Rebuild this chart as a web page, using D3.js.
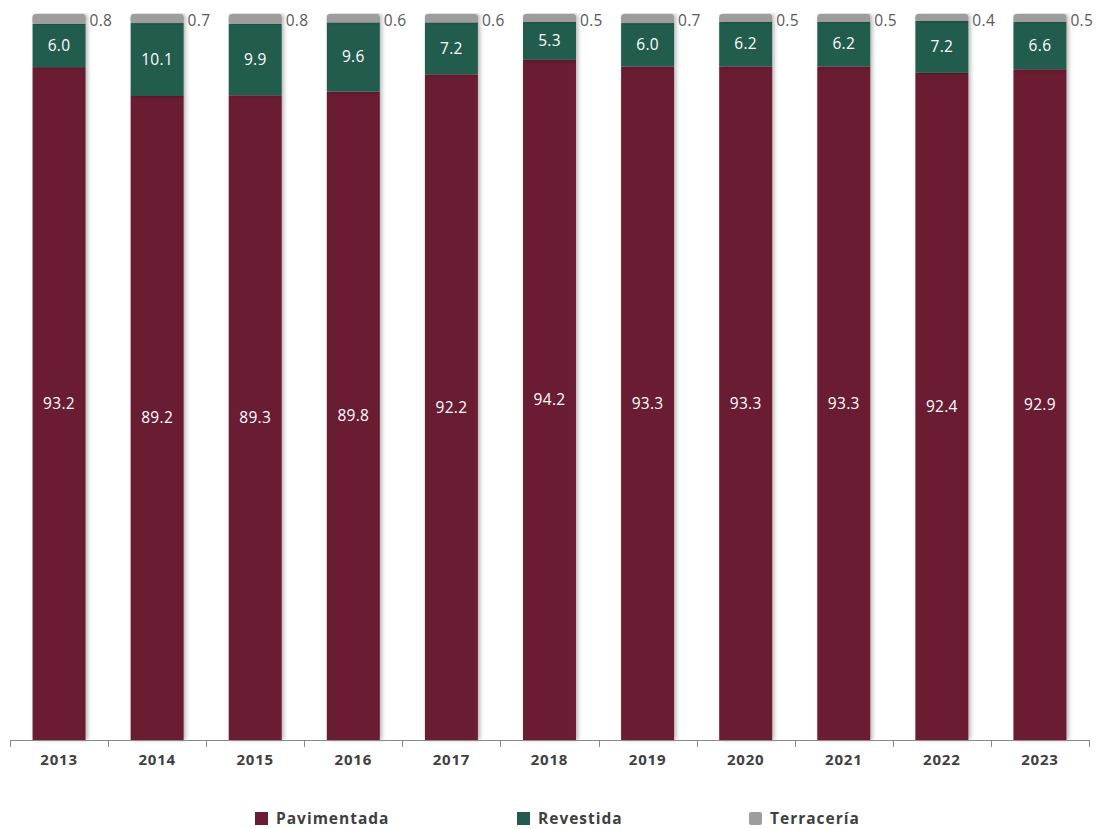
<!DOCTYPE html>
<html><head><meta charset="utf-8">
<script src="https://cdn.jsdelivr.net/npm/d3@7"></script>
<style>body{margin:0;background:#fff;} svg{display:block;font-family:"Open Sans",sans-serif;}</style>
</head><body><svg id="c" width="1099" height="829"></svg>
<script>
const years = ["2013","2014","2015","2016","2017","2018","2019","2020","2021","2022","2023"];
const pavimentada = [93.2,89.2,89.3,89.8,92.2,94.2,93.3,93.3,93.3,92.4,92.9];
const revestida = [6.0,10.1,9.9,9.6,7.2,5.3,6.0,6.2,6.2,7.2,6.6];
const terraceria = [0.8,0.7,0.8,0.6,0.6,0.5,0.7,0.5,0.5,0.4,0.5];
const seriesNames = ["Pavimentada","Revestida","Terracería"];
const colors = ["#691C32","#235B4E","#9D9D9D"];

const svg = d3.select("#c");
const x = d3.scaleBand().domain(years).range([10,1089]).paddingInner(0.46).paddingOuter(0.23);
const y = d3.scaleLinear().domain([0,100]).range([740,18]);

const defs = svg.append("defs");
const f = defs.append("filter").attr("id","sh").attr("x","-20%").attr("y","-5%").attr("width","150%").attr("height","110%");
f.append("feDropShadow").attr("dx",2).attr("dy",0).attr("stdDeviation",2).attr("flood-color","#000").attr("flood-opacity",0.3);

const rows = years.map((yr,i)=>({year:yr,Pavimentada:pavimentada[i],Revestida:revestida[i],"Terracería":terraceria[i]}));
const stack = d3.stack().keys(seriesNames)(rows);

const g = svg.append("g");
stack.forEach((s,si)=>{
  g.append("g").attr("filter","url(#sh)").selectAll("rect").data(s).join("rect")
    .attr("x",d=>x(d.data.year))
    .attr("width",x.bandwidth())
    .attr("y",d=>y(d[1]) - (si===2?4:0))
    .attr("height",d=>y(d[0])-y(d[1]) + (si===2?4:0))
    .attr("rx",si===2?3:0)
    .attr("fill",colors[si]);
});
g.append("g").selectAll("rect").data(stack[2]).join("rect")
  .attr("x",d=>x(d.data.year)).attr("width",x.bandwidth())
  .attr("y",d=>y(d[1]) - 1).attr("height",d=>y(d[0])-y(d[1]) + 1)
  .attr("fill",colors[2]);

// labels
[0,1].forEach(si=>{
  g.append("g").selectAll("text").data(stack[si]).join("text")
    .attr("x",d=>x(d.data.year)+x.bandwidth()/2)
    .attr("y",d=>(y(d[0])+y(d[1]))/2)
    .attr("dy","0.35em").attr("text-anchor","middle")
    .attr("fill","#fff").attr("font-size",15.5).attr("letter-spacing",0.3)
    .text(d=>d3.format(".1f")(d[1]-d[0]));
});
g.append("g").selectAll("text").data(stack[2]).join("text")
  .attr("x",d=>x(d.data.year)+x.bandwidth()+4)
  .attr("y",d=>y(d[1])+3)
  .attr("dy","0.35em").attr("text-anchor","start")
  .attr("fill","#595959").attr("font-size",15.5).attr("letter-spacing",0.3)
  .text((d,i)=>d3.format(".1f")(terraceria[i]));

// axis
const ax = svg.append("g");
ax.append("line").attr("x1",10).attr("x2",1089).attr("y1",740.5).attr("y2",740.5).attr("stroke","#8a8a8a");
const bounds = d3.range(years.length+1).map(i=>10+i*(1079/years.length));
ax.selectAll("line.t").data(bounds).join("line").attr("class","t")
  .attr("x1",d=>Math.round(d)+0.5).attr("x2",d=>Math.round(d)+0.5).attr("y1",740).attr("y2",747).attr("stroke","#8a8a8a");
ax.selectAll("text").data(years).join("text")
  .attr("x",d=>x(d)+x.bandwidth()/2).attr("y",760).attr("dy","0.35em")
  .attr("text-anchor","middle").attr("font-weight","bold").attr("font-size",15).attr("letter-spacing",0.8).attr("fill","#404040")
  .text(d=>d);

// legend
const legX = [255,517,749];
const lg = svg.append("g");
seriesNames.forEach((n,i)=>{
  lg.append("rect").attr("x",legX[i]).attr("y",812).attr("width",13).attr("height",13).attr("rx",i===2?2:0).attr("fill",colors[i]);
  lg.append("text").attr("x",legX[i]+21).attr("y",818.5).attr("dy","0.35em")
    .attr("font-weight","bold").attr("font-size",15.5).attr("letter-spacing",1.0).attr("fill","#404040").text(n);
});
</script></body></html>
